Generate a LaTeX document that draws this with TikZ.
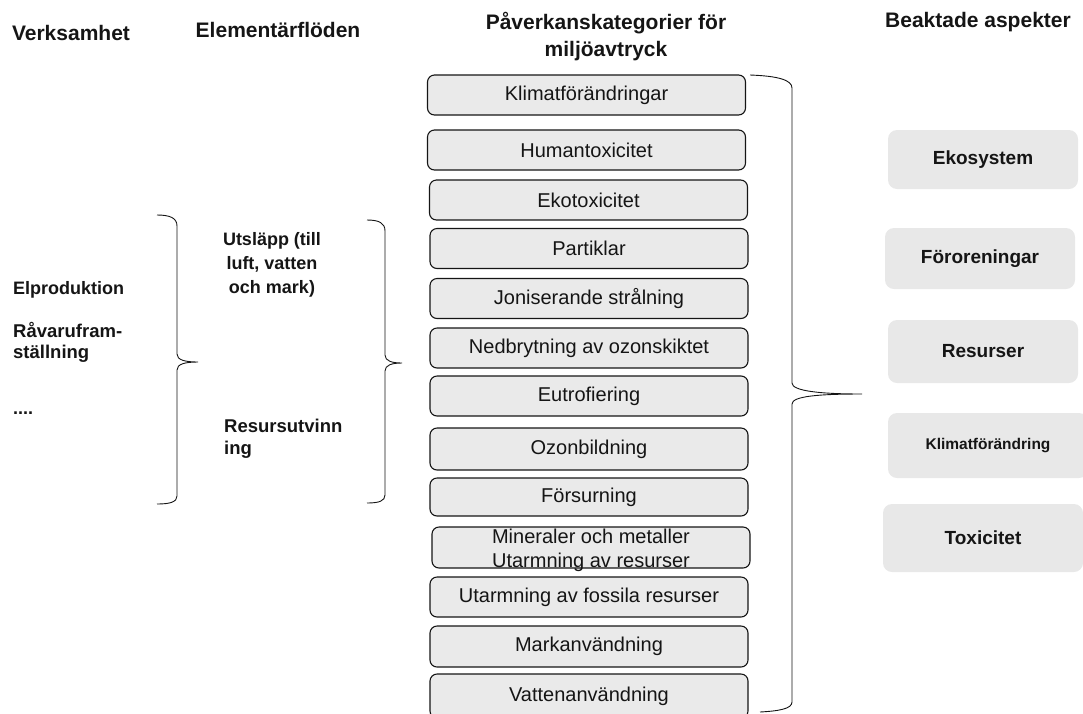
\documentclass[tikz,border=0pt]{standalone}
\usepackage{fontspec}
\setmainfont{Liberation Sans}
\definecolor{catgray}{HTML}{EAEAEA}
\definecolor{aspgray}{HTML}{E8E8E8}
\definecolor{ink}{HTML}{151515}
\begin{document}
\begin{tikzpicture}[x=1pt,y=-1pt,
  cat/.style={draw=ink, fill=catgray, rounded corners=7pt, line width=1.1pt,
    minimum width=318pt, minimum height=40pt, inner sep=0pt,
    font=\fontsize{20}{24}\selectfont, text=ink, align=center},
  cattext/.style={inner sep=0pt, font=\fontsize{20}{24}\selectfont, text=ink, align=center},
  aspect/.style={fill=aspgray, rounded corners=9pt, minimum width=190pt, inner sep=0pt,
    font=\bfseries\fontsize{19}{22}\selectfont, text=ink},
  head/.style={inner sep=0pt, font=\bfseries\fontsize{21}{27}\selectfont, text=ink, align=center},
  lbl/.style={inner sep=0pt, font=\bfseries\fontsize{18}{23}\selectfont, text=ink},
  brace/.style={line width=0.9pt, draw=ink}]
\useasboundingbox (0,0) rectangle (1083,713);

% column headings
\node[head] (h1) at (71,33) {Verksamhet};
\node[head] (h2) at (278,30) {Elementärflöden};
\node[head] (h3) at (606,36.5) {Påverkanskategorier för\\miljöavtryck};
\node[head] (h4) at (978,22) {Beaktade aspekter};

% activities
\node[lbl, anchor=west] (a1) at (13,290) {Elproduktion};
\node[lbl, anchor=west, align=left, font=\bfseries\fontsize{18.5}{21}\selectfont] (a2) at (13,342) {Råvarufram-\\ställning};
\node[lbl, anchor=west] (a3) at (13,413) {....};

% elementary flows
\node[lbl, align=center, font=\bfseries\fontsize{18}{24}\selectfont] (f1) at (272,265) {Utsläpp (till\\luft, vatten\\och mark)};
\node[lbl, anchor=west, align=left, font=\bfseries\fontsize{18.5}{22}\selectfont] (f2) at (224,439) {Resursutvinn\\ing};

% impact categories
\node[cat] (c1) at (586.5,95) {Klimatförändringar};
\node[cat] (c2) at (586.5,150) {Humantoxicitet};
\node[cat] (c3) at (588.5,200) {Ekotoxicitet};
\node[cat] (c4) at (589,248.5) {Partiklar};
\node[cat] (c5) at (589,298.5) {Joniserande strålning};
\node[cat] (c6) at (589,348) {Nedbrytning av ozonskiktet};
\node[cat] (c7) at (589,396) {Eutrofiering};
\node[cat, minimum height=42pt] (c8) at (589,449) {Ozonbildning};
\node[cat, minimum height=38pt] (c9) at (589,497) {Försurning};
\node[cat, minimum height=41pt] (c10) at (591,547.5) {};
\node[cattext] (c10t) at (591,550) {Mineraler och metaller\\Utarmning av resurser};
\node[cat] (c11) at (589,597) {Utarmning av fossila resurser};
\node[cat, minimum height=41pt] (c12) at (589,646.5) {Markanvändning};
\node[cat, minimum height=44pt] (c13) at (589,696) {Vattenanvändning};

% aspects
\node[aspect, minimum height=59pt] (e1) at (983,159.5) {Ekosystem};
\node[aspect, minimum height=61pt] (e2) at (980,258.5) {Föroreningar};
\node[aspect, minimum height=63pt] (e3) at (983,351.5) {Resurser};
\node[aspect, minimum width=200pt, minimum height=65pt, font=\bfseries\fontsize{15.5}{18}\selectfont] (e4) at (988,445.5) {Klimatförändring};
\node[aspect, minimum width=200pt, minimum height=68pt] (e5) at (983,538) {Toxicitet};

% brace grouping the activities
\coordinate (b1top) at (157,215);
\coordinate (b1tip) at (198,362);
\coordinate (b1bot) at (157,504);
\draw[brace] (b1top) .. controls (170,215) and (177,218) .. (177,226)
  -- (177,354) .. controls (177,360) and (185,362) .. (b1tip)
  .. controls (185,362) and (177,364) .. (177,370)
  -- (177,496) .. controls (177,502) and (170,504) .. (b1bot);

% brace grouping the elementary flows
\coordinate (b2top) at (367,220);
\coordinate (b2tip) at (402,363);
\coordinate (b2bot) at (367,503);
\draw[brace] (b2top) .. controls (379,220) and (385,223) .. (385,231)
  -- (385,355) .. controls (385,361) and (392,363) .. (b2tip)
  .. controls (392,363) and (385,365) .. (385,371)
  -- (385,495) .. controls (385,501) and (379,503) .. (b2bot);

% brace linking the categories to the aspects
\coordinate (b3top) at (750,75);
\coordinate (b3tip) at (862,394);
\coordinate (b3bot) at (760,712);
\draw[brace] (b3top) .. controls (778,76) and (792,80) .. (792,88)
  -- (792,383) .. controls (792,391) and (820,394) .. (b3tip)
  .. controls (820,394) and (792,396) .. (792,404)
  -- (792,702) .. controls (792,709) and (778,711) .. (b3bot);
\end{tikzpicture}
\end{document}
